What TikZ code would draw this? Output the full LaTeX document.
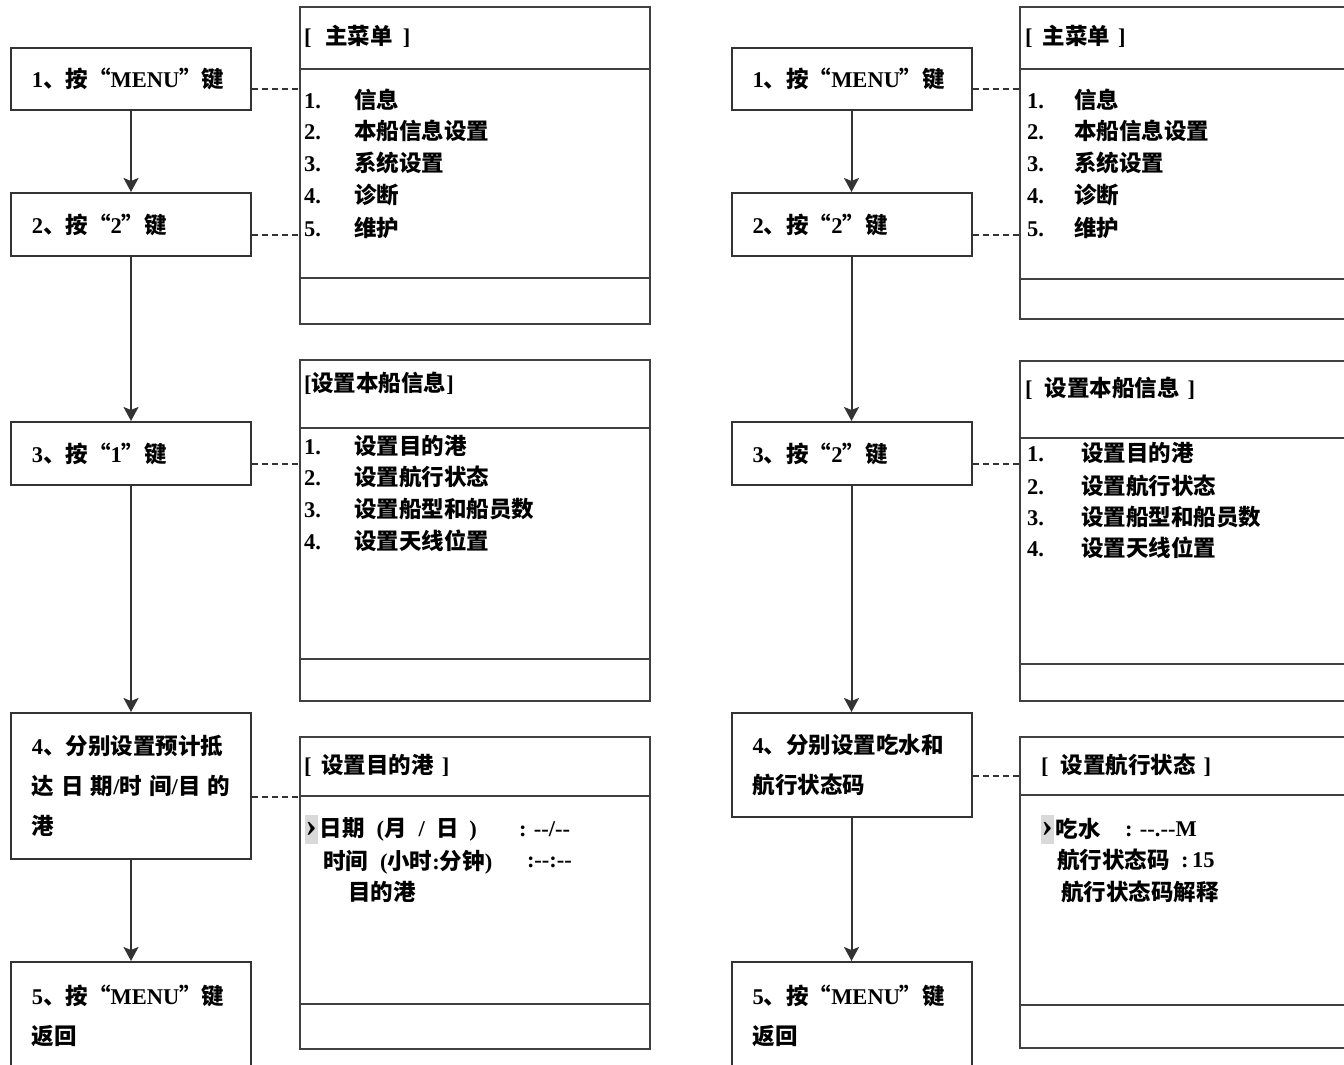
\documentclass[tikz,border=0pt]{standalone}
\usepackage{fontspec}
\setmainfont{Noto Sans CJK SC}
\newfontfamily\latinfont{Liberation Serif}
\usepackage{tikz}
\usetikzlibrary{positioning,arrows.meta}
\newcommand*{\lat}[1]{{\latinfont #1}}
\newcommand*{\curmark}{{\latinfont\fontsize{17pt}{17pt}\selectfont ›}}

\begin{document}
\begin{tikzpicture}[x=0.5pt, y=-0.5pt, line width=1pt,
    >={Stealth[length=7pt,width=7.5pt,inset=1.5pt]},
    every node/.style={font=\fontsize{11.25pt}{20pt}\selectfont\bfseries},
    stepbox/.style={draw=black!80, minimum width=120pt, text width=99pt, inner xsep=10.5pt, inner ysep=0pt, align=left},
    menubox/.style={draw=black!75, minimum width=175pt, anchor=north west, inner sep=0pt},
    item/.style={anchor=west, inner sep=0pt},
    cursor/.style={anchor=west, fill=black!15, inner xsep=0.3pt, inner ysep=0pt, minimum height=14.5pt},
    link/.style={draw=black!80, dash pattern=on 3pt off 2pt},
    flow/.style={draw=black!80, ->}]
    \useasboundingbox (0,0) rectangle (1344,1065);
    \clip (0,0) rectangle (1344,1065);

    % left column: steps
    \node[stepbox, minimum height=31pt] (l1) at (131,79) {\lat{1}、按“\lat{MENU}”键};
    \node[stepbox, minimum height=31.5pt] (l2) at (131,224.5) {\lat{2}、按“\lat{2}”键};
    \node[stepbox, minimum height=31.5pt] (l3) at (131,453.5) {\lat{3}、按“\lat{1}”键};
    \node[stepbox, minimum height=73pt] (l4) at (131,786) {\lat{4}、分别设置预计抵\\
        \makebox[99pt][s]{达\hfil 日\hfil 期\lat{/}时\hfil 间\lat{/}目\hfil 的}\\港};
    \node[stepbox, minimum height=54pt] (l5) at (131,1016) {\lat{5}、按“\lat{MENU}”键\\返回};

    % left column: screens
    \node[menubox, minimum height=158pt] (lm1) at (299,6.5) {};
    \draw[draw=black!75] ([yshift=-31.25pt]lm1.north west) -- ([yshift=-31.25pt]lm1.north east);
    \draw[draw=black!75] ([yshift=23.5pt]lm1.south west) -- ([yshift=23.5pt]lm1.south east);
    \node[item] (lm1h) at (303,36) {\lat{[}\hspace{7pt}主菜单\hspace{5pt}\lat{]}};
    \node[item] (lm1a) at (303,100) {\makebox[25pt][l]{\lat{1.}}信息};
    \node[item] (lm1b) at (303,131) {\makebox[25pt][l]{\lat{2.}}本船信息设置};
    \node[item] (lm1c) at (303,163) {\makebox[25pt][l]{\lat{3.}}系统设置};
    \node[item] (lm1d) at (303,195) {\makebox[25pt][l]{\lat{4.}}诊断};
    \node[item] (lm1e) at (303,228) {\makebox[25pt][l]{\lat{5.}}维护};

    \node[menubox, minimum height=170.5pt] (lm2) at (299,359) {};
    \draw[draw=black!75] ([yshift=-34.5pt]lm2.north west) -- ([yshift=-34.5pt]lm2.north east);
    \draw[draw=black!75] ([yshift=21.5pt]lm2.south west) -- ([yshift=21.5pt]lm2.south east);
    \node[item] (lm2h) at (303,383) {\lat{[}设置本船信息\lat{]}};
    \node[item] (lm2a) at (303,446) {\makebox[25pt][l]{\lat{1.}}设置目的港};
    \node[item] (lm2b) at (303,477) {\makebox[25pt][l]{\lat{2.}}设置航行状态};
    \node[item] (lm2c) at (303,509) {\makebox[25pt][l]{\lat{3.}}设置船型和船员数};
    \node[item] (lm2d) at (303,541) {\makebox[25pt][l]{\lat{4.}}设置天线位置};

    \node[menubox, minimum height=156pt] (lm3) at (299,736) {};
    \draw[draw=black!75] ([yshift=-30pt]lm3.north west) -- ([yshift=-30pt]lm3.north east);
    \draw[draw=black!75] ([yshift=23pt]lm3.south west) -- ([yshift=23pt]lm3.south east);
    \node[item] (lm3h) at (303,765) {\lat{[}\hspace{5pt}设置目的港\hspace{4pt}\lat{]}};
    \node[cursor] (lm3cur) at (304,829) {\curmark};
    \node[item, right=0pt of lm3cur] (lm3a) {日期\hspace{6pt}\lat{(}月\hspace{6pt}\lat{/}\hspace{6pt}日\hspace{5pt}\lat{)}};
    \node[item] (lm3av) at (518,829) {\lat{: --/--}};
    \node[item] (lm3b) at (322,862) {时间\hspace{6pt}\lat{(}小时\lat{:}分钟\lat{)}};
    \node[item] (lm3bv) at (526,862) {\lat{:--:--}};
    \node[item] (lm3c) at (347,892) {目的港};

    % right column: steps
    \node[stepbox, minimum height=31pt] (r1) at (851.5,79) {\lat{1}、按“\lat{MENU}”键};
    \node[stepbox, minimum height=31.5pt] (r2) at (851.5,224.5) {\lat{2}、按“\lat{2}”键};
    \node[stepbox, minimum height=31.5pt] (r3) at (851.5,453.5) {\lat{3}、按“\lat{2}”键};
    \node[stepbox, minimum height=52pt] (r4) at (851.5,765) {\lat{4}、分别设置吃水和\\航行状态码};
    \node[stepbox, minimum height=54pt] (r5) at (851.5,1016) {\lat{5}、按“\lat{MENU}”键\\返回};

    % right column: screens
    \node[menubox, minimum width=170.5pt, minimum height=156pt] (rm1) at (1019,6) {};
    \draw[draw=black!75] ([yshift=-31.5pt]rm1.north west) -- ([yshift=-31.5pt]rm1.north east);
    \draw[draw=black!75] ([yshift=20.5pt]rm1.south west) -- ([yshift=20.5pt]rm1.south east);
    \node[item] (rm1h) at (1024,36) {\lat{[}\hspace{5pt}主菜单\hspace{4pt}\lat{]}};
    \node[item] (rm1a) at (1026,100) {\makebox[23.5pt][l]{\lat{1.}}信息};
    \node[item] (rm1b) at (1026,131) {\makebox[23.5pt][l]{\lat{2.}}本船信息设置};
    \node[item] (rm1c) at (1026,163) {\makebox[23.5pt][l]{\lat{3.}}系统设置};
    \node[item] (rm1d) at (1026,195) {\makebox[23.5pt][l]{\lat{4.}}诊断};
    \node[item] (rm1e) at (1026,228) {\makebox[23.5pt][l]{\lat{5.}}维护};

    \node[menubox, minimum width=170.5pt, minimum height=170pt] (rm2) at (1019,360) {};
    \draw[draw=black!75] ([yshift=-39pt]rm2.north west) -- ([yshift=-39pt]rm2.north east);
    \draw[draw=black!75] ([yshift=19pt]rm2.south west) -- ([yshift=19pt]rm2.south east);
    \node[item] (rm2h) at (1024,388) {\lat{[}\hspace{6pt}设置本船信息\hspace{4pt}\lat{]}};
    \node[item] (rm2a) at (1026,453) {\makebox[27pt][l]{\lat{1.}}设置目的港};
    \node[item] (rm2b) at (1026,486) {\makebox[27pt][l]{\lat{2.}}设置航行状态};
    \node[item] (rm2c) at (1026,517) {\makebox[27pt][l]{\lat{3.}}设置船型和船员数};
    \node[item] (rm2d) at (1026,548) {\makebox[27pt][l]{\lat{4.}}设置天线位置};

    \node[menubox, minimum width=170.5pt, minimum height=155.5pt] (rm3) at (1019,736) {};
    \draw[draw=black!75] ([yshift=-29.5pt]rm3.north west) -- ([yshift=-29.5pt]rm3.north east);
    \draw[draw=black!75] ([yshift=22pt]rm3.south west) -- ([yshift=22pt]rm3.south east);
    \node[item] (rm3h) at (1040,765) {\lat{[}\hspace{6pt}设置航行状态\hspace{4pt}\lat{]}};
    \node[cursor] (rm3cur) at (1040,829) {\curmark};
    \node[item, right=0pt of rm3cur] (rm3a) {吃水};
    \node[item] (rm3av) at (1124,829) {\lat{: --.--M}};
    \node[item] (rm3b) at (1056,860) {航行状态码};
    \node[item] (rm3bv) at (1180,860) {\lat{:\,15}};
    \node[item] (rm3c) at (1060,892) {航行状态码解释};

    % flow
    \draw[flow] (l1) -- (l2);
    \draw[flow] (l2) -- (l3);
    \draw[flow] (l3) -- (l4);
    \draw[flow] (l4) -- (l5);
    \draw[flow] (r1) -- (r2);
    \draw[flow] (r2) -- (r3);
    \draw[flow] (r3) -- (r4);
    \draw[flow] (r4) -- (r5);

    % links to screens
    \draw[link] ([yshift=-5pt]l1.east) -- ([yshift=-5pt]l1.east -| lm1.west);
    \draw[link] ([yshift=-5pt]l2.east) -- ([yshift=-5pt]l2.east -| lm1.west);
    \draw[link] ([yshift=-5pt]l3.east) -- ([yshift=-5pt]l3.east -| lm2.west);
    \draw[link] ([yshift=-5.5pt]l4.east) -- ([yshift=-5.5pt]l4.east -| lm3.west);
    \draw[link] ([yshift=-5pt]r1.east) -- ([yshift=-5pt]r1.east -| rm1.west);
    \draw[link] ([yshift=-5pt]r2.east) -- ([yshift=-5pt]r2.east -| rm1.west);
    \draw[link] ([yshift=-5pt]r3.east) -- ([yshift=-5pt]r3.east -| rm2.west);
    \draw[link] ([yshift=-5.5pt]r4.east) -- ([yshift=-5.5pt]r4.east -| rm3.west);
\end{tikzpicture}
\end{document}
